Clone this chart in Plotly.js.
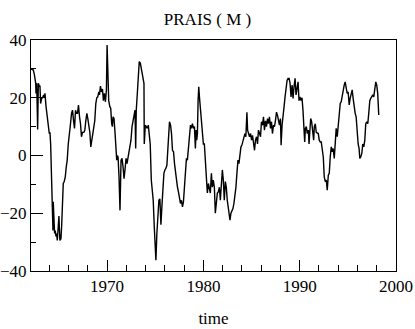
<!DOCTYPE html>
<html>
<head>
<meta charset="utf-8">
<script src="https://cdn.plot.ly/plotly-3.0.1.min.js"></script>
<style>html,body{margin:0;padding:0;background:#fff;}#chart{width:415px;height:329px;}</style>
</head>
<body>
<div id="chart"></div>
<script>
var chartTitle = "PRAIS ( M )";
var xTitle = "time";

var time = [
  1962.10,1962.34,1962.45,1962.59,1962.62,1962.69,1962.79,1962.86,1962.97,
  1963.03,1963.10,1963.21,1963.31,1963.41,1963.48,1963.55,1963.66,1963.76,1963.90,
  1964.00,1964.07,1964.14,1964.24,1964.31,1964.38,1964.41,1964.48,1964.55,1964.62,1964.69,1964.76,1964.83,1964.93,
  1965.00,1965.10,1965.21,1965.28,1965.38,1965.45,1965.55,1965.66,1965.76,1965.86,1965.97,
  1966.07,1966.17,1966.31,1966.41,1966.52,1966.62,1966.72,1966.83,1966.93,
  1967.03,1967.14,1967.24,1967.34,1967.45,1967.59,1967.69,1967.79,1967.90,
  1968.00,1968.10,1968.21,1968.31,1968.41,1968.52,1968.62,1968.72,1968.83,1968.93,
  1969.03,1969.14,1969.21,1969.31,1969.41,1969.52,1969.62,1969.72,1969.83,1969.93,
  1970.00,1970.07,1970.17,1970.28,1970.38,1970.48,1970.55,1970.62,1970.72,1970.83,1970.93,
  1971.00,1971.07,1971.14,1971.24,1971.34,1971.45,1971.55,1971.66,1971.76,1971.86,1971.97,
  1972.07,1972.17,1972.28,1972.38,1972.48,1972.59,1972.69,1972.79,1972.90,1972.97,
  1973.03,1973.14,1973.24,1973.34,1973.45,1973.55,1973.66,1973.76,1973.83,1973.86,1973.97,
  1974.07,1974.17,1974.28,1974.38,1974.48,1974.59,1974.69,1974.79,1974.90,
  1975.00,1975.07,1975.17,1975.28,1975.38,1975.48,1975.59,1975.69,1975.79,1975.90,
  1976.00,1976.10,1976.21,1976.31,1976.41,1976.48,1976.59,1976.69,1976.79,1976.90,
  1977.00,1977.10,1977.21,1977.31,1977.41,1977.52,1977.62,1977.72,1977.83,1977.93,
  1978.03,1978.14,1978.24,1978.34,1978.45,1978.55,1978.66,1978.76,1978.86,1978.97,
  1979.07,1979.17,1979.24,1979.31,1979.38,1979.45,1979.52,1979.59,1979.69,1979.79,1979.90,
  1980.00,1980.10,1980.21,1980.31,1980.41,1980.52,1980.62,1980.72,1980.83,1980.93,
  1981.03,1981.14,1981.24,1981.34,1981.45,1981.55,1981.66,1981.76,1981.86,1981.97,
  1982.07,1982.17,1982.28,1982.38,1982.48,1982.59,1982.69,1982.76,1982.86,1982.97,
  1983.07,1983.17,1983.28,1983.38,1983.48,1983.59,1983.69,1983.79,1983.90,
  1984.00,1984.10,1984.21,1984.31,1984.41,1984.52,1984.59,1984.69,1984.79,1984.90,
  1985.00,1985.10,1985.21,1985.31,1985.41,1985.52,1985.62,1985.72,1985.83,1985.93,
  1986.03,1986.14,1986.24,1986.34,1986.45,1986.55,1986.66,1986.76,1986.86,1986.97,
  1987.07,1987.17,1987.28,1987.38,1987.48,1987.59,1987.69,1987.79,1987.90,
  1988.00,1988.07,1988.17,1988.28,1988.38,1988.48,1988.59,1988.69,1988.79,1988.90,
  1989.00,1989.10,1989.21,1989.31,1989.41,1989.52,1989.62,1989.72,1989.83,1989.93,
  1990.03,1990.14,1990.24,1990.34,1990.45,1990.52,1990.59,1990.69,1990.79,1990.90,1990.97,
  1991.03,1991.14,1991.24,1991.34,1991.45,1991.52,1991.62,1991.72,1991.83,1991.93,
  1992.03,1992.14,1992.24,1992.34,1992.45,1992.55,1992.66,1992.76,1992.86,1992.97,
  1993.07,1993.17,1993.28,1993.38,1993.48,1993.59,1993.69,1993.79,1993.90,
  1994.00,1994.10,1994.21,1994.31,1994.41,1994.52,1994.62,1994.72,1994.83,1994.93,
  1995.03,1995.14,1995.24,1995.34,1995.45,1995.55,1995.66,1995.76,1995.86,1995.97,
  1996.07,1996.17,1996.24,1996.34,1996.45,1996.55,1996.66,1996.76,1996.86,1996.97,
  1997.07,1997.17,1997.28,1997.38,1997.48,1997.59,1997.69,1997.79,1997.90,
  1998.00,1998.10,1998.21
];

var prais = [
  30,29.6,28,25,21.5,25,9,25,24,
  24,18,20,20,21,20,21.5,17,14.5,11.7,
  7.6,8,4,-8.5,-15.5,-26,-16,-21,-27,-26,-28,-27,-29.4,-24.7,
  -21,-29.4,-28.8,-24.7,-11,-9.7,-9,-7.4,-4,-1.6,4,
  6.5,10,14.6,15.7,12,9.4,15.7,14.6,14.6,
  17.5,13.4,11,6.5,8,8,8.8,12,14.6,
  12.8,11,8,3,5.3,8.8,11,12,18,20,
  20.3,22,21,24,22,23,19,21.5,18.6,22.7,
  38.3,27,19,17,16.3,11,10,13.4,12.8,7.6,1.8,
  -1.6,0,-0.5,-7.4,-19,-1.6,-1,-4,-8,-5,-1,
  -2.8,-0.5,0.7,3,5.3,10,11.7,13.4,15.7,2.4,
  15.7,21.5,29,32.5,32,30,28,26,25,4,10.5,
  10,9.4,10.5,6.5,4,-8.5,-13,-15.5,-24.7,
  -32.8,-36.3,-27,-17.8,-15.5,-15,-24,-17.8,-11,-6.2,
  -5,-4.5,-3.4,4,8.8,11.7,10.5,7.6,1.8,1.3,
  -2.8,-6.2,-9.7,-11,-12.6,-15.5,-16.6,-15.5,-17.8,-16,
  -11,-2.8,-1,-1.6,3,7.6,10.5,9.4,11,9.4,
  10,2.4,8.8,5.3,7.6,19,23.8,20.3,15.7,14.6,7.6,
  4,4,-2.8,-9,-13,-9.7,-11,-13,-6.2,-11,
  -8.5,-11,-20,-15.5,-13,-12.6,-11,-15.5,-11,-5,
  -8.5,-15.5,-9,-11,-15.5,-19,-20.7,-22.4,-20,-19,
  -18.4,-16.6,-14.3,-11,-6.2,-1.6,-2.8,0.7,3,
  3.6,5.3,6.5,7.6,6.5,15,8.8,7.6,6.5,7.6,
  5.3,7,3,1.8,5.3,6.5,4,8.8,7.6,6.5,
  11.7,10.5,13.4,8.8,12,10,12.8,11,13.4,9.4,
  11.7,7.6,10.5,10,12,15,14,11.7,10.5,
  12.8,3.6,10.5,15.7,17,20.3,24.4,26,26.7,26.7,
  25,20.3,24.4,19.8,23.8,26.7,21,24.4,25.5,19,
  20.3,19,20,15.7,10,4.7,9.4,10,7.6,8.8,4,
  8.8,12.8,11.7,8,5.3,10,11,8,7.6,7.6,
  5.3,4.7,4.7,2.4,-0.5,-7.4,-9,-8.5,-12,-6.8,
  -6.2,-0.5,3,1.3,2.4,-1,5.3,9.4,6.5,
  10,15.7,18,18.6,21,22,24.4,25.5,23.8,21.5,
  22,17.5,19.8,22,22.7,19.8,16.3,14.6,13.4,8,
  4,2.4,-1,-0.5,0.7,4,3,5.3,11,11.7,
  11,14.6,19,19.8,20.3,21,20.3,22.7,25.5,
  24.4,21.5,14
];

var xRange = [1962.1, 2000];
var yRange = [-40, 40];

var fontFam = "Liberation Serif, Times New Roman, serif";

var trace = {
  x: time,
  y: prais,
  type: 'scatter',
  mode: 'lines',
  line: {color: '#000000', width: 1.4},
  hoverinfo: 'skip'
};

var layout = {
  width: 415,
  height: 329,
  margin: {l: 31, r: 19, t: 40, b: 58},
  paper_bgcolor: '#ffffff',
  plot_bgcolor: '#ffffff',
  showlegend: false,
  font: {family: fontFam, size: 17, color: '#000000'},
  title: {
    text: chartTitle,
    font: {family: fontFam, size: 17, color: '#000000'},
    x: 0.5, xanchor: 'center',
    y: 1 - 19/329, yref: 'container', yanchor: 'middle'
  },
  xaxis: {
    range: xRange,
    tickmode: 'linear', tick0: 1970, dtick: 10,
    ticks: 'inside', ticklen: 11, tickwidth: 1, tickcolor: '#000',
    minor: {dtick: 2, tick0: 1970, ticks: 'inside', ticklen: 6, tickwidth: 1, tickcolor: '#000'},
    showgrid: false, zeroline: false,
    showline: true, linecolor: '#000', linewidth: 1, mirror: true,
    tickfont: {family: fontFam, size: 17, color: '#000'},
    title: {text: xTitle, font: {family: fontFam, size: 17, color: '#000'}, standoff: 16}
  },
  yaxis: {
    range: yRange,
    tickmode: 'linear', tick0: 0, dtick: 20,
    ticks: 'inside', ticklen: 12, tickwidth: 1, tickcolor: '#000',
    minor: {dtick: 10, tick0: 0, ticks: 'inside', ticklen: 5, tickwidth: 1, tickcolor: '#000'},
    showgrid: false, zeroline: false,
    showline: true, linecolor: '#000', linewidth: 1, mirror: true,
    tickfont: {family: fontFam, size: 17, color: '#000'}
  }
};

Plotly.newPlot('chart', [trace], layout, {displayModeBar: false, staticPlot: true});
</script>
</body>
</html>
